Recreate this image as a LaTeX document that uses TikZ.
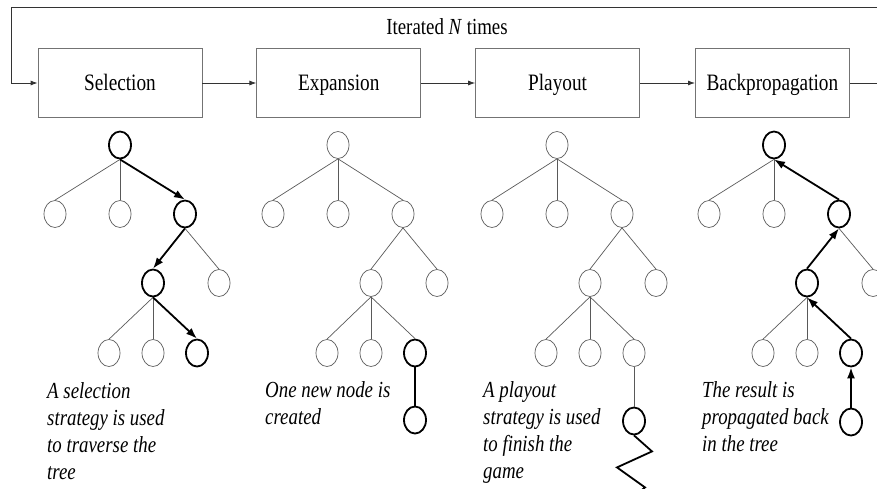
\documentclass[tikz,border=0pt]{standalone}
\usepackage{fontspec}
\setmainfont{Liberation Serif}[FakeStretch=0.82]
\usetikzlibrary{arrows.meta,positioning,shapes.geometric}

\begin{document}
\begin{tikzpicture}[x=1pt,y=-1pt,
  stage/.style={draw=black!55,line width=0.8pt,minimum width=164pt,
                minimum height=69pt,inner sep=0pt,text height=16pt,text depth=1pt,
                font=\fontsize{23.5}{27}\selectfont},
  ar/.style={draw=black!80,line width=0.8pt,-{Latex[length=7pt,width=5pt]}},
  nd/.style={ellipse,draw=black!65,line width=0.7pt,minimum width=22pt,
             minimum height=27pt,inner sep=0pt},
  hl/.style={nd,draw=black,line width=1.8pt},
  edge/.style={draw=black!65,line width=0.7pt},
  bold/.style={draw=black,line width=1.8pt},
  down/.style={bold,-{Latex[length=11pt,width=8pt]}},
  up/.style={bold,{Latex[length=11pt,width=8pt]}-},
  note/.style={anchor=north west,inner sep=0pt,align=left,
               font=\itshape\fontsize{23}{27}\selectfont}]
\useasboundingbox (0,0) rectangle (877,488);
\clip (0,0) rectangle (877,488);

% the four stages
\node[stage] (sel) at (120,83) {Selection};
\node[stage,right=54pt of sel] (exp) {Expansion};
\node[stage,right=54pt of exp] (play) {Playout};
\node[stage,right=55pt of play,minimum width=154pt] (back) {Backpropagation};
\node[font=\fontsize{23}{26}\selectfont] (iter) at (447,27) {Iterated \textit{N} times};

\draw[ar] (sel) -- (exp);
\draw[ar] (exp) -- (play);
\draw[ar] (play) -- (back);
\coordinate (loopR) at (900,7);
\coordinate (loopL) at (11,7);
\draw[ar] (back.east) -| (loopR) -- (loopL) |- (sel.west);

% one tree under each stage
\foreach \k/\x/\sa/\sb/\ea in {s/120/hl/hl/down, e/338/nd/hl/edge,
                               p/557/nd/nd/edge, b/774/hl/hl/up}{
  \node[\sa] (\k0) at (\x,145) {};
  \node[nd] (\k1) at (\x-65,214) {};
  \node[nd] (\k2) at (\x,214) {};
  \node[\sa] (\k3) at (\x+65,214) {};
  \node[\sa] (\k4) at (\x+33,283) {};
  \node[nd] (\k5) at (\x+99,283) {};
  \node[nd] (\k6) at (\x-11,353) {};
  \node[nd] (\k7) at (\x+33,353) {};
  \node[\sb] (\k8) at (\x+77,353) {};
  \draw[edge] (\k0.south) -- (\k1.north);
  \draw[edge] (\k0.south) -- (\k2.north);
  \draw[\ea] (\k0.south) -- (\k3.north);
  \draw[\ea] (\k3.south) -- (\k4.north);
  \draw[edge] (\k3.south) -- (\k5.north);
  \draw[edge] (\k4.south) -- (\k6.north);
  \draw[edge] (\k4.south) -- (\k7.north);
  \draw[\ea] (\k4.south) -- (\k8.north);
}

% expansion: new node
\node[hl] (e9) at (415,420) {};
\draw[bold] (e8.south) -- (e9.north);
% playout: simulated game
\node[hl] (p9) at (634,421) {};
\draw[edge] (p8.south) -- (p9.north);
\draw[bold] (p9.south) -- ++(18,16) -- ++(-35,16) -- ++(28,20) -- ++(-20,16);
% backpropagation: result goes up
\node[hl] (b9) at (851,422) {};
\draw[up] (b8.south) -- (b9.north);

\node[note] (stxt) at (47,382) {A selection\\strategy is used\\to traverse the\\tree};
\node[note] (etxt) at (265,381) {One new node is\\created};
\node[note] (ptxt) at (483,381) {A playout\\strategy is used\\to finish the\\game};
\node[note] (btxt) at (702,381) {The result is\\propagated back\\in the tree};
\end{tikzpicture}
\end{document}
